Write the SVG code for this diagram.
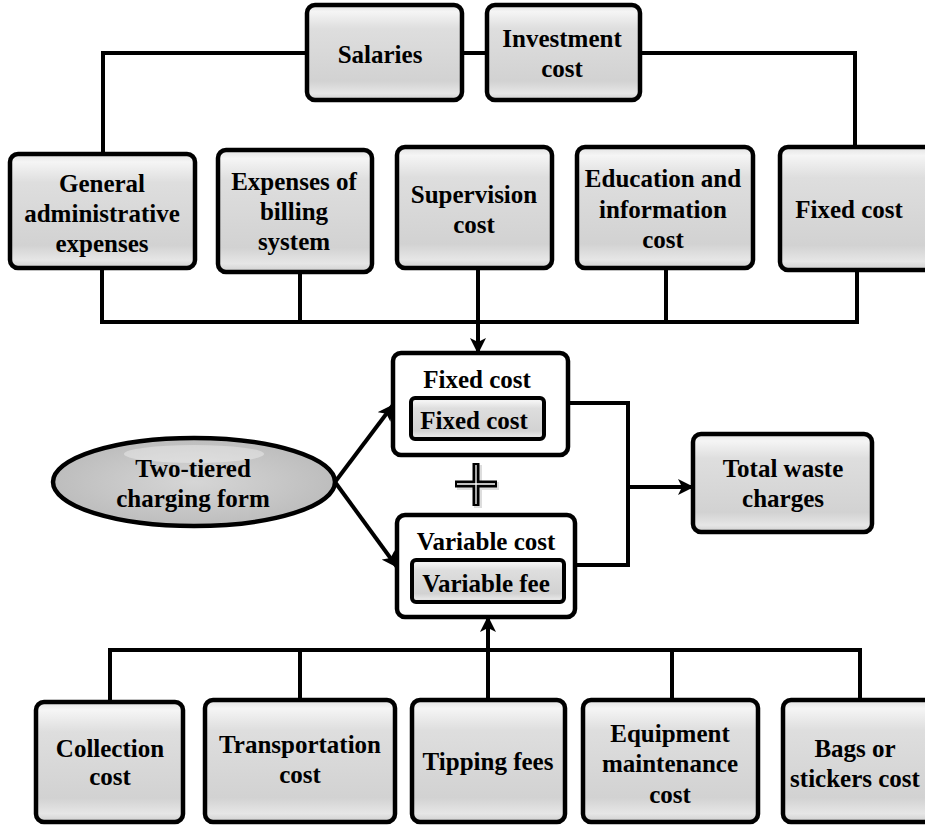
<svg xmlns="http://www.w3.org/2000/svg" width="925" height="825" viewBox="0 0 925 825">
<defs>
<linearGradient id="gl" x1="0" y1="0" x2="0" y2="1">
<stop offset="0" stop-color="#e2e2e2"/>
<stop offset="0.07" stop-color="#f5f5f5"/>
<stop offset="0.25" stop-color="#dedede"/>
<stop offset="0.8" stop-color="#d2d2d2"/>
<stop offset="0.93" stop-color="#e6e6e6"/>
<stop offset="1" stop-color="#cfcfcf"/>
</linearGradient>
<radialGradient id="eg" cx="0.5" cy="0.5" r="0.5">
<stop offset="0" stop-color="#d6d6d6"/>
<stop offset="1" stop-color="#bdbdbd"/>
</radialGradient>
<marker id="ah" viewBox="0 0 16 16" refX="15" refY="8" markerWidth="16" markerHeight="16" orient="auto" markerUnits="userSpaceOnUse">
<path d="M0,0 L16,8 L0,16 L4,8 z" fill="#000"/>
</marker>
<style>
.bx{fill:url(#gl);stroke:#000;stroke-width:4.5}
.wb{fill:#fff;stroke:#000;stroke-width:4.5}
.ib{fill:url(#gl);stroke:#000;stroke-width:4}
.c{fill:none;stroke:#000;stroke-width:4}
</style>
</defs>
<g id="connectors">
<path class="c" d="M307 53 H103 V153"/>
<path class="c" d="M462 53 H487"/>
<path class="c" d="M640 53 H855 V147"/>
<path class="c" d="M102 268 V322 H857 V270"/>
<path class="c" d="M300 272 V322"/>
<path class="c" d="M666 268 V322"/>
<path class="c" d="M478 268 V353" marker-end="url(#ah)"/>
<path class="c" d="M110 700 V650 H860 V700"/>
<path class="c" d="M300 650 V700"/>
<path class="c" d="M672 650 V700"/>
<path class="c" d="M488 700 V617" marker-end="url(#ah)"/>
<path class="c" d="M335 482 L393 405" marker-end="url(#ah)"/>
<path class="c" d="M335 482 L397 567" marker-end="url(#ah)"/>
<path class="c" d="M568 403 H628 V565 H575"/>
<path class="c" d="M628 487 H693" marker-end="url(#ah)"/>
</g>
<g font-family="Liberation Serif" font-weight="bold" font-size="25" text-anchor="middle" fill="#000">
<g id="salaries">
<rect class="bx" x="307" y="5" width="155" height="95" rx="8"/>
<text x="380" y="63">Salaries</text>
</g>
<g id="investment">
<rect class="bx" x="487" y="5" width="153" height="95" rx="8"/>
<text x="562" y="47">Investment</text>
<text x="562" y="77">cost</text>
</g>
<g id="general">
<rect class="bx" x="10" y="154" width="185" height="114" rx="8"/>
<text x="102" y="192">General</text>
<text x="102" y="222">administrative</text>
<text x="102" y="252">expenses</text>
</g>
<g id="billing">
<rect class="bx" x="218" y="150" width="154" height="122" rx="8"/>
<text x="294" y="190">Expenses of</text>
<text x="294" y="220">billing</text>
<text x="294" y="250">system</text>
</g>
<g id="supervision">
<rect class="bx" x="397" y="147" width="155" height="121" rx="8"/>
<text x="474" y="203">Supervision</text>
<text x="474" y="233">cost</text>
</g>
<g id="education">
<rect class="bx" x="577" y="147" width="176" height="121" rx="8"/>
<text x="663" y="187">Education and</text>
<text x="663" y="218">information</text>
<text x="663" y="248">cost</text>
</g>
<g id="fixedtop">
<rect class="bx" x="780" y="147" width="160" height="123" rx="8"/>
<text x="849" y="218">Fixed cost</text>
</g>
<g id="fixedbox">
<rect class="wb" x="393" y="353" width="175" height="102" rx="8"/>
<text x="477" y="388">Fixed cost</text>
<rect class="ib" x="411" y="398" width="133" height="41" rx="4"/>
<text x="474" y="429">Fixed cost</text>
</g>
<g id="plus">
<path d="M455 484 H497 M476 463 V506" stroke="#bbb" stroke-width="8" fill="none" transform="translate(2,2)" opacity="0.5"/>
<path d="M455 484 H497 M476 463 V506" stroke="#000" stroke-width="7" fill="none"/>
<path d="M457 484 H495 M476 465 V504" stroke="#fff" stroke-width="1.3" fill="none"/>
</g>
<g id="variablebox">
<rect class="wb" x="397" y="515" width="178" height="102" rx="8"/>
<text x="486" y="550">Variable cost</text>
<rect class="ib" x="412" y="560" width="152" height="42" rx="4"/>
<text x="486" y="592">Variable fee</text>
</g>
<g id="twotiered">
<ellipse cx="194" cy="482" rx="141" ry="44" fill="url(#eg)" stroke="#000" stroke-width="4.5"/>
<ellipse cx="194" cy="454" rx="70" ry="9" fill="#fff" opacity="0.35"/>
<text x="193" y="477">Two-tiered</text>
<text x="193" y="507">charging form</text>
</g>
<g id="total">
<rect class="bx" x="693" y="434" width="179" height="98" rx="8"/>
<text x="783" y="477">Total waste</text>
<text x="783" y="507">charges</text>
</g>
<g id="collection">
<rect class="bx" x="36" y="702" width="147" height="120" rx="8"/>
<text x="110" y="757">Collection</text>
<text x="110" y="785">cost</text>
</g>
<g id="transportation">
<rect class="bx" x="205" y="700" width="190" height="122" rx="8"/>
<text x="300" y="753">Transportation</text>
<text x="300" y="783">cost</text>
</g>
<g id="tipping">
<rect class="bx" x="412" y="700" width="153" height="122" rx="8"/>
<text x="488" y="770">Tipping fees</text>
</g>
<g id="equipment">
<rect class="bx" x="583" y="700" width="175" height="122" rx="8"/>
<text x="670" y="742">Equipment</text>
<text x="670" y="772">maintenance</text>
<text x="670" y="803">cost</text>
</g>
<g id="bags">
<rect class="bx" x="783" y="700" width="160" height="122" rx="8"/>
<text x="855" y="757">Bags or</text>
<text x="855" y="787">stickers cost</text>
</g>
</g>
</svg>
